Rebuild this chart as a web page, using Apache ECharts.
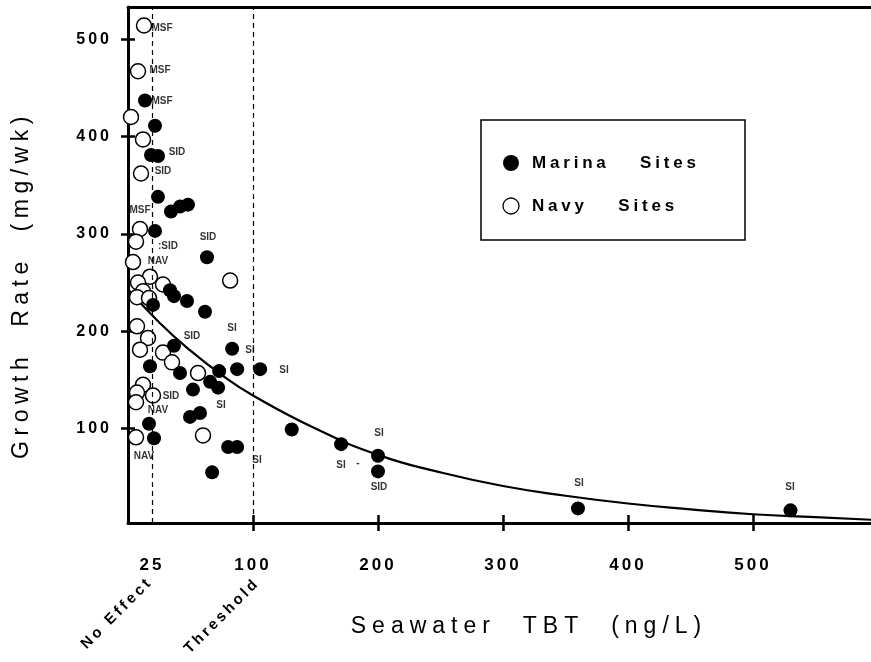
<!DOCTYPE html>
<html><head><meta charset="utf-8">
<script src="https://cdn.jsdelivr.net/npm/echarts@6/dist/echarts.min.js"></script>
<style>html,body{margin:0;padding:0;background:#fff}#c{width:871px;height:662px}</style>
</head><body><div id="c"></div>
<script>
// Letter/word spacing support: a font-family marker "lsNN" / "wsNN" (tenths of px) sets canvas spacing.
(function(){
  const P = CanvasRenderingContext2D.prototype;
  function wrap(orig){
    return function(t,x,y,w){
      const f = this.font || '';
      const ls = /\bls(\d+)\b/.exec(f), ws = /\bws(\d+)\b/.exec(f);
      if ('letterSpacing' in this) {
        const wl = ls ? (ls[1]/10)+'px' : '0px';
        const ww = ws ? (ws[1]/10)+'px' : '0px';
        if (this.letterSpacing !== wl || ('wordSpacing' in this && this.wordSpacing !== ww)) {
          this.letterSpacing = wl;
          if ('wordSpacing' in this) this.wordSpacing = ww;
          this.font = f;
        }
      }
      return (w===undefined) ? orig.call(this,t,x,y) : orig.call(this,t,x,y,w);
    };
  }
  P.fillText = wrap(P.fillText); P.strokeText = wrap(P.strokeText);
})();

// ---------- data ----------
const xTickValues = [19.2, 100, 200, 300, 400, 500];
const xTickLabels = ['25', '100', '200', '300', '400', '500'];
const xMajorTicks = [100, 200, 300, 400, 500];
const yTickValues = [100, 200, 300, 400, 500];
const refLineValues = [19.2, 100];          // "No Effect" and "Threshold" lines

const marinaX = [13.6, 21.6, 18.4, 24, 24, 34.4, 41.6, 48, 21.6, 63.2, 33.6, 36.8, 20, 47.2, 61.6, 36.8, 83.3, 17.6, 41.6, 72.9, 87.3, 105.7, 65.7, 72.1, 52, 49.6, 57.6, 16.8, 20.8, 80.1, 87.3, 67.3, 131, 170.5, 200, 200, 360, 530];
const marinaY = [437, 411, 381, 380, 338, 323, 328, 330, 303, 276, 242, 236, 227, 231, 220, 185, 182, 164, 157, 159, 161, 161, 148, 142, 140, 112, 116, 105, 90, 81, 81, 55, 99, 84, 72, 56, 18, 16];

const navyX = [12.8, 8, 2.4, 12, 10.4, 9.6, 6.4, 4, 17.6, 8, 28, 12, 7.2, 16.8, 81.7, 7.2, 16, 9.6, 28, 35.2, 56, 12, 7.2, 20, 6.4, 60, 6.4];
const navyY = [514, 467, 420, 397, 362, 305, 292, 271, 256, 250, 248, 241, 235, 234, 252, 205, 193, 181, 178, 168, 157, 145, 137, 134, 127, 93, 91];

const siteLabelX = [27.2, 25.6, 27.2, 39.2, 28, 9.6, 32, 24, 64, 51.2, 34.4, 24, 12.8, 83.2, 97.6, 124.8, 74.4, 103.2, 200.8, 170.4, 184, 200.8, 360.8, 529.6];
const siteLabelY = [511, 468, 436, 384, 364, 324, 287, 272, 296, 195, 133, 119, 72, 203, 180, 160, 124, 67, 95, 62, 64, 40, 44, 40];
const siteLabelText = ['MSF', 'MSF', 'MSF', 'SID', 'SID', 'MSF', ':SID', 'NAV', 'SID', 'SID', 'SID', 'NAV', 'NAV', 'SI', 'SI', 'SI', 'SI', 'SI', 'SI', 'SI', '-', 'SID', 'SI', 'SI'];

const curveX = [0, 25, 50, 75, 100, 150, 200, 250, 300, 350, 400, 450, 500, 550, 600];
const curveY = [243, 209, 180, 155, 134, 100, 73, 55, 41, 31, 23, 17, 12, 9, 6];

const yTitle = 'Growth Rate (mg/wk)';
const xTitle = 'Seawater TBT (ng/L)';
const legendNames = ['Marina Sites', 'Navy Sites'];
const noteTexts = ['No Effect', 'Threshold'];

// ---------- chart ----------
const FF = '"Liberation Sans"';
const chart = echarts.init(document.getElementById('c'), null, {renderer: 'canvas'});
const pairs = (xs, ys) => xs.map((x, i) => [x, ys[i]]);
const black = '#000';

const baseX = {type: 'value', min: 0, max: 600, splitLine: {show: false}, gridIndex: 0};
const baseY = {type: 'value', min: 3, max: 533, splitLine: {show: false}, gridIndex: 0};

const option = {
  animation: false,
  backgroundColor: '#fff',
  grid: {left: 128, width: 750, top: 7, height: 516, containLabel: false, outerBoundsMode: 'none'},
  xAxis: [
    Object.assign({}, baseX, {
      position: 'bottom',
      axisLine: {show: true, lineStyle: {color: black, width: 3}},
      axisTick: {show: true, customValues: xMajorTicks, length: 8, lineStyle: {color: black, width: 2.5}},
      axisLabel: {
        show: true, customValues: xTickValues, margin: 34, color: black,
        fontSize: 17, fontWeight: 'bold', fontFamily: FF + ', ls30',
        formatter: v => { let best = 0; xTickValues.forEach((t, i) => { if (Math.abs(t - v) < Math.abs(xTickValues[best] - v)) best = i; }); return xTickLabels[best]; }
      }
    }),
    Object.assign({}, baseX, {
      position: 'bottom',
      axisLine: {show: false},
      axisTick: {show: true, inside: true, customValues: xMajorTicks, length: 8, lineStyle: {color: black, width: 2.5}},
      axisLabel: {show: false}
    }),
    Object.assign({}, baseX, {
      position: 'top',
      axisLine: {show: true, lineStyle: {color: black, width: 3}},
      axisTick: {show: false}, axisLabel: {show: false}
    })
  ],
  yAxis: [
    Object.assign({}, baseY, {
      position: 'left',
      axisLine: {show: true, lineStyle: {color: black, width: 3}},
      axisTick: {show: true, customValues: yTickValues, length: 7, lineStyle: {color: black, width: 2.5}},
      axisLabel: {show: true, customValues: yTickValues, margin: 16, color: black, fontSize: 16, fontWeight: 'bold', fontFamily: FF + ', ls30'}
    }),
    Object.assign({}, baseY, {
      position: 'left',
      axisLine: {show: false},
      axisTick: {show: true, inside: true, customValues: yTickValues, length: 7, lineStyle: {color: black, width: 2.5}},
      axisLabel: {show: false}
    })
  ],
  series: [
    {
      type: 'line', name: 'fit', data: pairs(curveX, curveY), smooth: true, showSymbol: false,
      lineStyle: {color: black, width: 2.2}, z: 2, silent: true,
      markLine: {
        silent: true, symbol: ['none', 'none'], label: {show: false},
        lineStyle: {color: black, width: 1.2, type: [5, 4]},
        data: refLineValues.map(v => ({xAxis: v}))
      }
    },
    {
      type: 'scatter', name: legendNames[1], data: pairs(navyX, navyY), symbol: 'circle', symbolSize: 15,
      itemStyle: {color: '#fff', borderColor: black, borderWidth: 1.5, opacity: 1}, z: 3
    },
    {
      type: 'scatter', name: legendNames[0], data: pairs(marinaX, marinaY), symbol: 'circle', symbolSize: 14,
      itemStyle: {color: black, opacity: 1}, z: 4
    },
    {
      type: 'scatter', name: 'labels', symbolSize: 0, silent: true, z: 5,
      data: siteLabelX.map((x, i) => ({value: [x, siteLabelY[i]], name: siteLabelText[i]})),
      label: {show: true, position: 'inside', formatter: p => p.name, color: black, fontSize: 10, fontWeight: 'bold', fontFamily: FF}
    }
  ],
  graphic: [
    {type: 'rect', shape: {x: 481, y: 120, width: 264, height: 120}, style: {fill: '#fff', stroke: black, lineWidth: 1.5}, z: 10},
    {type: 'circle', shape: {cx: 511, cy: 163, r: 8}, style: {fill: black}, z: 11},
    {type: 'circle', shape: {cx: 511, cy: 206, r: 8}, style: {fill: '#fff', stroke: black, lineWidth: 1.3}, z: 11},
    {type: 'text', x: 532, y: 163, z: 11, style: {text: legendNames[0], fill: black, font: 'bold 17px ' + FF + ', ls38, ws220', textAlign: 'left', textVerticalAlign: 'middle', align: 'left', verticalAlign: 'middle'}},
    {type: 'text', x: 532, y: 206, z: 11, style: {text: legendNames[1], fill: black, font: 'bold 17px ' + FF + ', ls38, ws220', textAlign: 'left', textVerticalAlign: 'middle', align: 'left', verticalAlign: 'middle'}},
    {type: 'text', x: 22, y: 285, rotation: Math.PI / 2, z: 11, style: {text: yTitle, fill: black, font: '23px ' + FF + ', ls55, ws130', textAlign: 'center', textVerticalAlign: 'middle', align: 'center', verticalAlign: 'middle'}},
    {type: 'text', x: 529, y: 627, z: 11, style: {text: xTitle, fill: black, font: '23px ' + FF + ', ls60, ws145', textAlign: 'center', textVerticalAlign: 'middle', align: 'center', verticalAlign: 'middle'}},
    {type: 'text', x: 117, y: 613, rotation: Math.PI / 4, z: 11, style: {text: noteTexts[0], fill: black, font: 'bold 15px ' + FF + ', ls32', textAlign: 'center', textVerticalAlign: 'middle', align: 'center', verticalAlign: 'middle'}},
    {type: 'text', x: 222, y: 616, rotation: Math.PI / 4, z: 11, style: {text: noteTexts[1], fill: black, font: 'bold 15px ' + FF + ', ls30', textAlign: 'center', textVerticalAlign: 'middle', align: 'center', verticalAlign: 'middle'}}
  ]
};
chart.setOption(option);
</script>
</body></html>
